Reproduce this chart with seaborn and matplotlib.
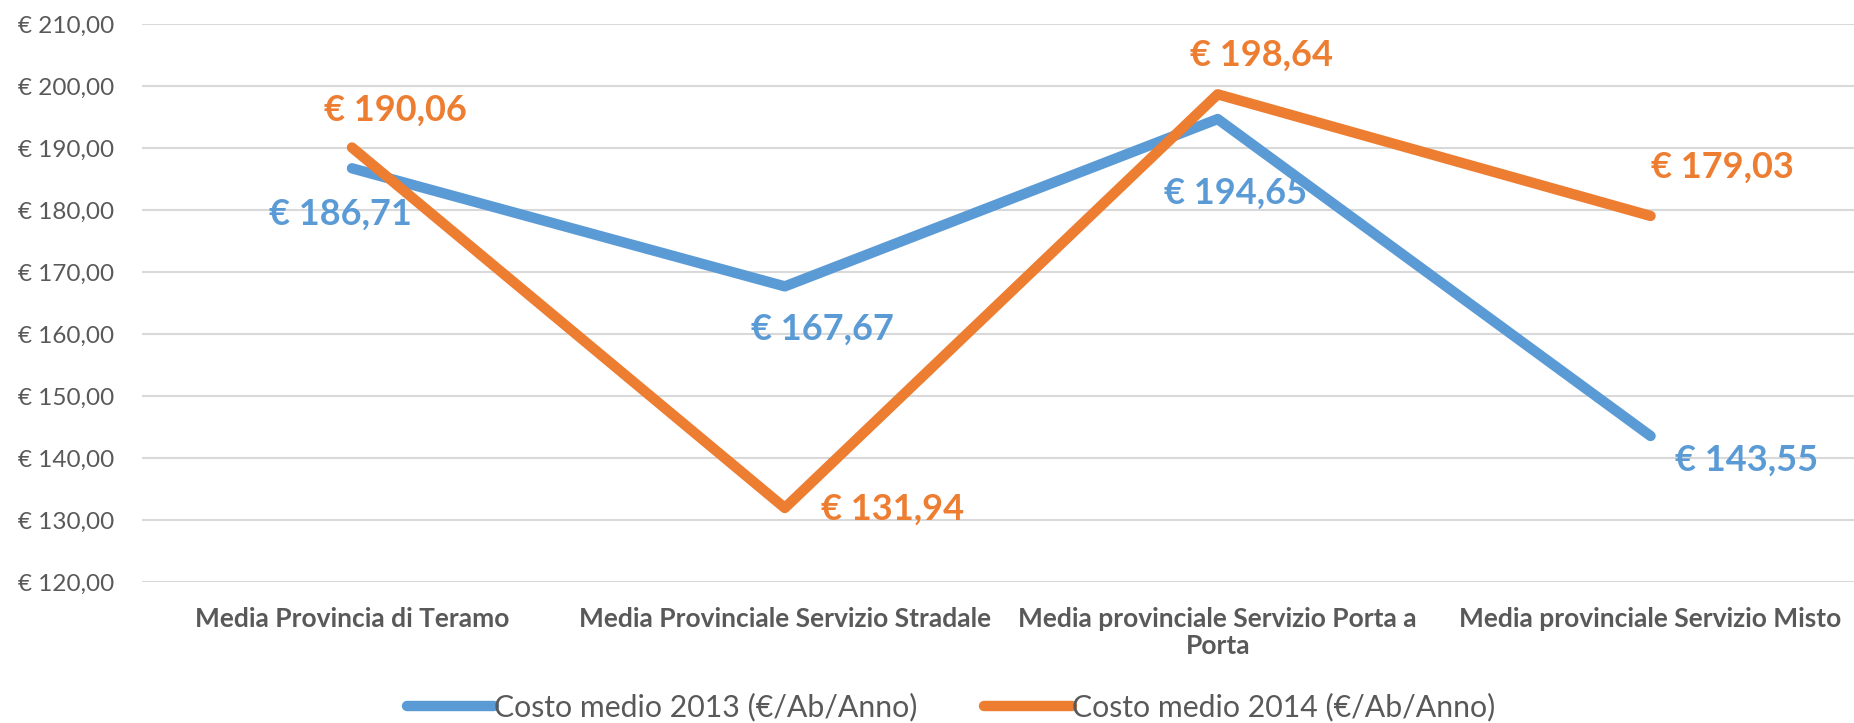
import matplotlib
matplotlib.use("Agg")
import matplotlib.pyplot as plt
import pandas as pd
import seaborn as sns

# dati
categorie = [
    "Media Provincia di Teramo",
    "Media Provinciale Servizio Stradale",
    "Media provinciale Servizio Porta a\nPorta",
    "Media provinciale Servizio Misto",
]
costo_2013 = [186.71, 167.67, 194.65, 143.55]
costo_2014 = [190.06, 131.94, 198.64, 179.03]
serie = ["Costo medio 2013 (€/Ab/Anno)", "Costo medio 2014 (€/Ab/Anno)"]
colori = ["#5B9BD5", "#ED7D31"]
y_ticks = [120, 130, 140, 150, 160, 170, 180, 190, 200, 210]

# offset etichette in pixel (dx, dy verso l'alto)
offset_2013 = [(-12, -46), (38, -43), (18, -74), (96, -24)]
offset_2014 = [(43, 37), (108, -1), (44, 39), (72, 49)]

GRIGIO = "#595959"


def euro(v: float) -> str:
    return "€ " + f"{v:.2f}".replace(".", ",")


def main() -> None:
    sns.set_theme(style="white")
    plt.rcParams["font.family"] = ["Lato", "DejaVu Sans"]

    df = pd.DataFrame({
        "categoria": categorie * 2,
        "valore": costo_2013 + costo_2014,
        "serie": [serie[0]] * 4 + [serie[1]] * 4,
    })

    fig = plt.figure(figsize=(18.54, 7.23), dpi=100)
    ax = fig.add_axes([0.0766, 0.195, 0.9234, 0.772])

    sns.lineplot(data=df, x="categoria", y="valore", hue="serie", palette=colori,
                 sort=False, linewidth=7.5, ax=ax, zorder=3)
    for line in ax.get_lines():
        line.set_solid_capstyle("round")
        line.set_solid_joinstyle("round")

    ax.set_ylim(120, 210)
    ax.set_xlim(-0.485, 3.47)
    ax.set_yticks(y_ticks)
    ax.set_yticklabels([euro(t) for t in y_ticks], color=GRIGIO, fontsize=17.5)
    ax.yaxis.grid(True, color="#D9D9D9", linewidth=1.5)
    ax.set_axisbelow(True)
    for s in ax.spines.values():
        s.set_visible(False)
    ax.tick_params(axis="y", length=0, pad=20)
    ax.tick_params(axis="x", length=0, pad=18)
    ax.set_xlabel("")
    ax.set_ylabel("")
    for lab in ax.get_xticklabels():
        lab.set_fontweight("bold")
        lab.set_color(GRIGIO)
        lab.set_fontsize(19)
        lab.set_linespacing(1.15)

    for i, v in enumerate(costo_2013):
        dx, dy = offset_2013[i]
        ax.annotate(euro(v), (i, v), xytext=(dx * 0.72, dy * 0.72), textcoords="offset points",
                    ha="center", va="center", color=colori[0], fontsize=26, fontweight="bold", zorder=4)
    for i, v in enumerate(costo_2014):
        dx, dy = offset_2014[i]
        ax.annotate(euro(v), (i, v), xytext=(dx * 0.72, dy * 0.72), textcoords="offset points",
                    ha="center", va="center", color=colori[1], fontsize=26, fontweight="bold", zorder=4)

    leg = ax.legend(loc="center", bbox_to_anchor=(0.4726, -0.225), ncol=2, frameon=False,
                    fontsize=21.8, handlelength=2.9, handletextpad=0.0, columnspacing=2.2,
                    labelcolor=GRIGIO)
    for h in leg.get_lines():
        h.set_linewidth(7.5)

    fig.savefig("out.png", dpi=100)


if __name__ == "__main__":
    main()
